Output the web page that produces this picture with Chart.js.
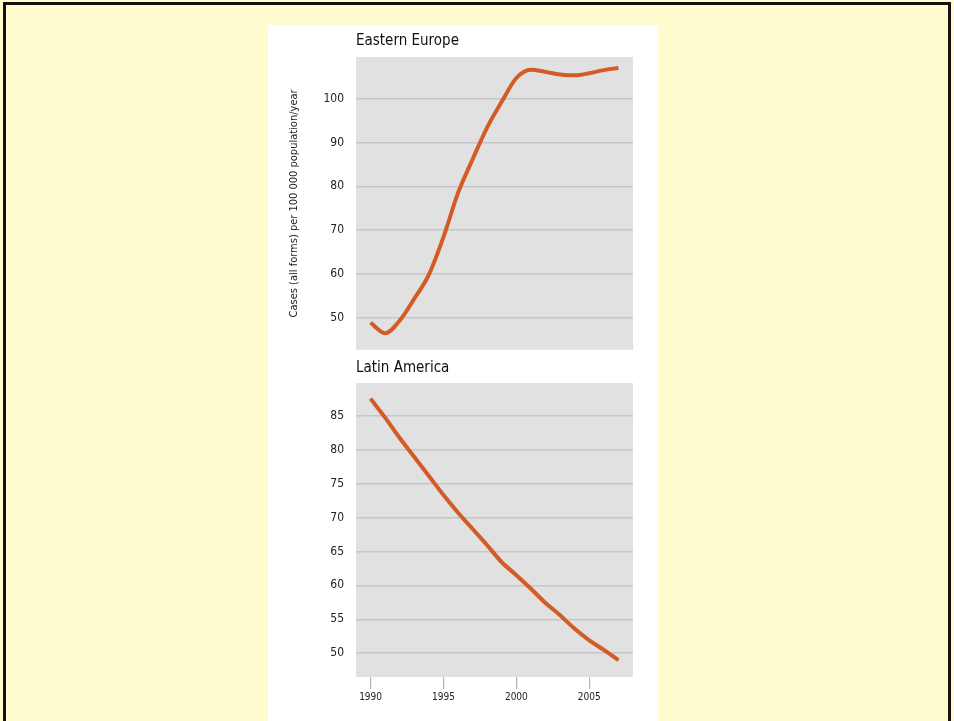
<!DOCTYPE html>
<html lang="en">
<head>
  <meta charset="UTF-8" />
  <title>Tuberculosis incidence: Eastern Europe and Latin America</title>
  <script src="https://cdn.jsdelivr.net/npm/chart.js@4"></script>
  <style>
    html, body { margin: 0; padding: 0; }
    body { width: 954px; height: 721px; background: #fffdd0; position: relative; overflow: hidden; }
    .marco { position: absolute; left: 3px; top: 2px; width: 942px; height: 740px;
             border: 3px solid #111; border-bottom: none; }
    .panel { position: absolute; left: 268px; top: 25px; width: 390px; height: 696px; background: #fff; }
    .panel canvas { position: absolute; left: 0; }
  </style>
</head>
<body>
  <div class="marco"></div>
  <div class="panel">
    <canvas id="graficaEuropa" width="390" height="344" style="top:0"></canvas>
    <canvas id="graficaLatam" width="390" height="362" style="top:334px"></canvas>
  </div>

  <script>
    // datos
    const years = [1990, 1991, 1992, 1993, 1994, 1995, 1996, 1997, 1998, 1999,
                   2000, 2001, 2002, 2003, 2004, 2005, 2006, 2007];
    const easternEurope = [48.8, 46.4, 49.3, 54.3, 59.8, 68.4, 78.5, 86.2, 93.5, 99.4,
                           104.8, 106.7, 106.2, 105.6, 105.4, 105.9, 106.6, 107.1];
    const latinAmerica = [87.5, 84.7, 81.7, 78.9, 76.1, 73.3, 70.7, 68.3, 65.9, 63.4,
                          61.5, 59.5, 57.4, 55.6, 53.6, 51.9, 50.5, 49.0];
    const xTicks = [1990, 1995, 2000, 2005];
    const yTicksEurope = [50, 60, 70, 80, 90, 100];
    const yTicksLatam = [50, 55, 60, 65, 70, 75, 80, 85];

    const FUENTE = "'Liberation Sans Narrow', 'DejaVu Sans Condensed', sans-serif";
    const NARANJA = '#d35b25';

    // fondo gris del area de trazado
    const fondoGris = {
      id: 'fondoGris',
      beforeDraw(chart) {
        const { ctx, chartArea: a } = chart;
        ctx.save();
        ctx.fillStyle = '#e1e1e1';
        ctx.fillRect(a.left, a.top, a.width, a.height);
        ctx.restore();
      }
    };

    function puntos(valores) {
      return years.map((y, i) => ({ x: y, y: valores[i] }));
    }

    function opciones(titulo, yMin, yMax, yTicks, conEjeX, tituloY) {
      return {
        responsive: false,
        animation: false,
        layout: { padding: { left: 0, right: 25, top: 0, bottom: 0 } },
        plugins: {
          legend: { display: false },
          tooltip: { enabled: false },
          title: {
            display: true,
            text: titulo,
            align: 'start',
            fullSize: false,
            color: '#111',
            font: { family: FUENTE, size: 15, weight: 'normal' },
            padding: conEjeX ? { top: 0, bottom: 6 } : { top: 7, bottom: 7 }
          }
        },
        scales: {
          x: {
            type: 'linear',
            min: 1989,
            max: 2008,
            display: conEjeX,
            afterBuildTicks: s => { s.ticks = xTicks.map(v => ({ value: v })); },
            afterFit: s => { if (conEjeX) s.height = 44; },
            border: { display: false },
            grid: { drawOnChartArea: false, drawTicks: true, tickLength: 12, color: '#b4b4b4', lineWidth: 1.2 },
            ticks: {
              color: '#222', padding: 2, maxRotation: 0,
              font: { family: FUENTE, size: 10 },
              callback: v => String(v)
            }
          },
          y: {
            min: yMin,
            max: yMax,
            afterBuildTicks: s => { s.ticks = yTicks.map(v => ({ value: v })); },
            afterFit: s => { s.width = 88; },
            border: { display: false },
            grid: { drawTicks: false, color: '#c6c6c6', lineWidth: 1.5 },
            ticks: { color: '#222', padding: 12, font: { family: FUENTE, size: 12 } },
            title: {
              display: !!tituloY,
              text: tituloY || '',
              color: '#222',
              padding: { top: 20, bottom: 0 },
              font: { family: FUENTE, size: 11 }
            }
          }
        }
      };
    }

    function serie(valores) {
      return [{
        data: puntos(valores),
        borderColor: NARANJA,
        borderWidth: 4,
        pointRadius: 0,
        cubicInterpolationMode: 'monotone',
        fill: false
      }];
    }

    new Chart(document.getElementById('graficaEuropa'), {
      type: 'line',
      data: { datasets: serie(easternEurope) },
      options: opciones('Eastern Europe', 42.6, 109.6, yTicksEurope, false,
                        'Cases (all forms) per 100 000 population/year'),
      plugins: [fondoGris]
    });

    new Chart(document.getElementById('graficaLatam'), {
      type: 'line',
      data: { datasets: serie(latinAmerica) },
      options: opciones('Latin America', 46.5, 89.8, yTicksLatam, true, null),
      plugins: [fondoGris]
    });
  </script>
</body>
</html>
